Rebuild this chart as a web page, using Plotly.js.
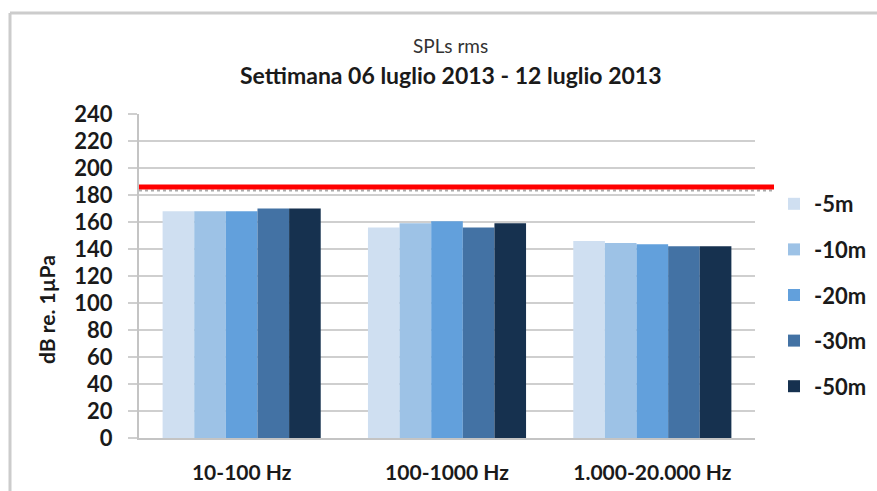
<!DOCTYPE html>
<html>
<head>
<meta charset="utf-8">
<script src="https://cdn.plot.ly/plotly-3.0.1.min.js"></script>
<style>
  html, body { margin: 0; padding: 0; background: #fff; }
  #chart { width: 877px; height: 491px; }
</style>
</head>
<body>
<div id="chart"></div>
<script>
// Data
const categories = ["10-100 Hz", "100-1000 Hz", "1.000-20.000 Hz"];
const seriesNames = ["-5m", "-10m", "-20m", "-30m", "-50m"];
const s5m  = [168, 156, 146];
const s10m = [168, 159, 144.5];
const s20m = [168, 160.5, 143.5];
const s30m = [170, 156, 142];
const s50m = [170, 159, 142];
const seriesValues = [s5m, s10m, s20m, s30m, s50m];
const thresholdRed = 186;
const thresholdDotted = 183.3;
const yTicks = [0, 20, 40, 60, 80, 100, 120, 140, 160, 180, 200, 220, 240];

const colors = ["#cfdff1", "#9dc2e6", "#62a0dc", "#4372a4", "#16314f"];
const FONT = "Lato, 'Open Sans', sans-serif";

const traces = seriesNames.map((name, i) => ({
  type: "bar",
  name: name,
  x: categories,
  y: seriesValues[i],
  marker: { color: colors[i], line: { width: 0 } },
  legendgroup: "g" + i,
  hoverinfo: "skip"
}));

const L = 139, R = 755, T = 114, B = 438;
const px2x = p => (p - L) / (R - L);
const py2y = p => (B - p) / (B - T);

const layout = {
  width: 877, height: 491,
  margin: { l: L, r: 877 - R, t: T, b: 491 - B, pad: 0, autoexpand: false },
  paper_bgcolor: "#ffffff",
  plot_bgcolor: "#ffffff",
  barmode: "group",
  bargap: 0.23,
  bargroupgap: 0,
  font: { family: FONT, color: "#1a1a1a" },
  showlegend: true,
  legend: {
    x: px2x(774), xanchor: "left",
    y: py2y(183), yanchor: "top",
    font: { family: FONT, size: 22, weight: "bold", color: "#1a1a1a" },
    tracegroupgap: 14,
    bgcolor: "rgba(0,0,0,0)"
  },
  xaxis: {
    type: "category",
    automargin: false,
    showgrid: false,
    showline: true, linecolor: "#c4c4c4", linewidth: 2,
    ticks: "",
    tickfont: { family: FONT, size: 21, weight: "bold", color: "#1a1a1a" },
    ticklabelstandoff: 15,
    fixedrange: true
  },
  yaxis: {
    automargin: false,
    range: [0, 240],
    tickvals: yTicks,
    ticktext: yTicks.map(String),
    showgrid: true, gridcolor: "#cfcfcf", gridwidth: 2,
    showline: true, linecolor: "#c4c4c4", linewidth: 2,
    ticks: "outside", ticklen: 9, tickcolor: "#cfcfcf", tickwidth: 2,
    ticklabelstandoff: 11,
    tickfont: { family: FONT, size: 22, weight: "bold", color: "#1a1a1a" },
    zeroline: false,
    fixedrange: true
  },
  annotations: [
    { text: "SPLs rms", xref: "paper", yref: "paper", x: px2x(451), y: py2y(46),
      xanchor: "center", yanchor: "middle", showarrow: false,
      font: { family: FONT, size: 19, color: "#333" } },
    { text: "<b>Settimana 06 luglio 2013 - 12 luglio 2013</b>", xref: "paper", yref: "paper", x: px2x(451), y: py2y(75),
      xanchor: "center", yanchor: "middle", showarrow: false,
      font: { family: FONT, size: 23, color: "#1a1a1a" } },
    { text: "<b>dB re. 1µPa</b>", xref: "paper", yref: "paper", x: px2x(46), y: py2y(310),
      xanchor: "center", yanchor: "middle", showarrow: false, textangle: -90,
      font: { family: FONT, size: 21, color: "#1a1a1a" } }
  ],
  shapes: [
    // outer chart frame (left and top)
    { type: "line", xref: "paper", yref: "paper", x0: px2x(10), x1: px2x(10), y0: py2y(13), y1: py2y(495),
      line: { color: "#cccccc", width: 3 } },
    { type: "line", xref: "paper", yref: "paper", x0: px2x(10), x1: px2x(880), y0: py2y(13), y1: py2y(13),
      line: { color: "#cccccc", width: 3 } },
    // threshold lines
    { type: "line", xref: "paper", yref: "y", x0: 0, x1: px2x(774), y0: thresholdDotted, y1: thresholdDotted,
      line: { color: "#aaaaaa", width: 2, dash: "dot" } },
    { type: "line", xref: "paper", yref: "y", x0: 0, x1: px2x(774), y0: thresholdRed, y1: thresholdRed,
      line: { color: "#ff0000", width: 5 } }
  ]
};

Plotly.newPlot("chart", traces, layout, { displayModeBar: false, staticPlot: true });
</script>
</body>
</html>
